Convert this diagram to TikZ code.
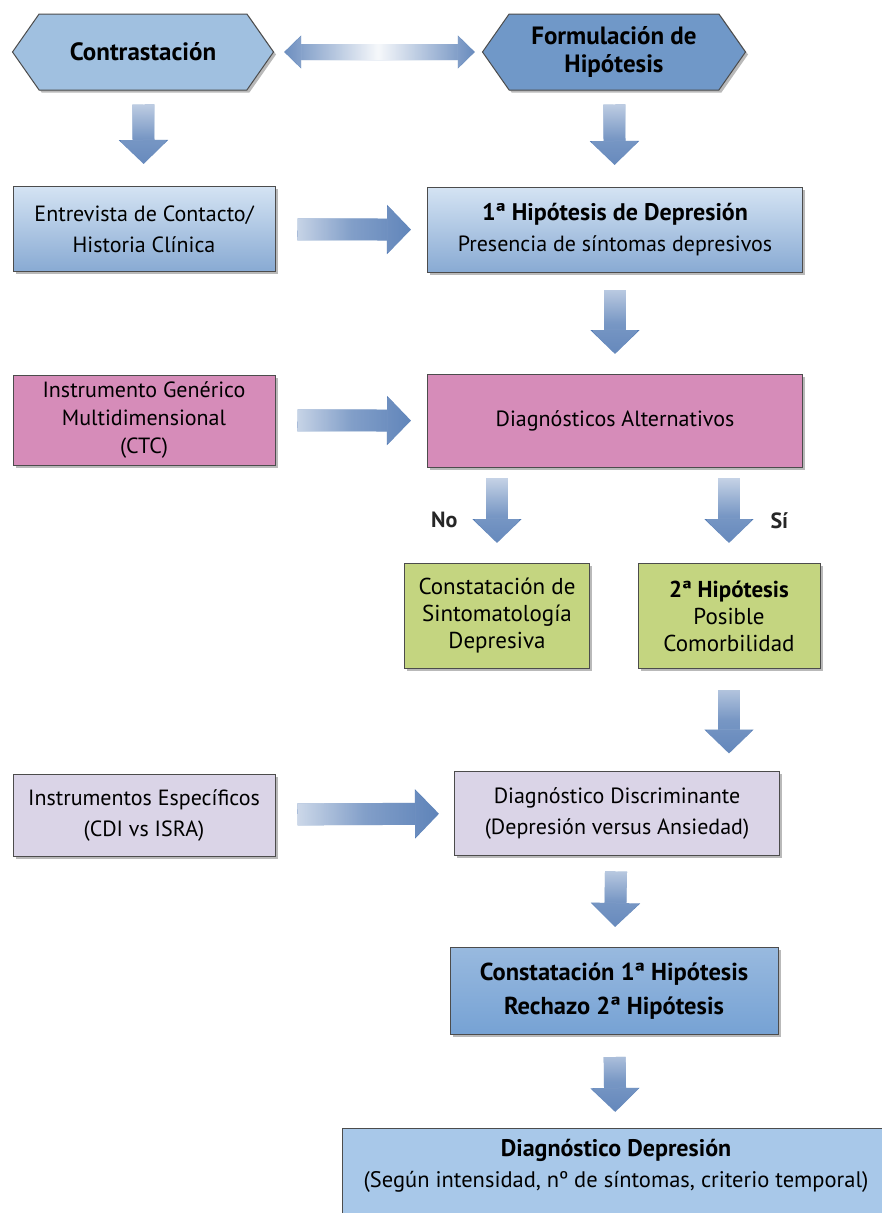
\documentclass[tikz,border=0pt]{standalone}
\usepackage{fontspec}
\setmainfont{PT Sans}
\usetikzlibrary{positioning,shapes.symbols,shadows,fadings,arrows.meta}

\definecolor{hexlight}{RGB}{160,192,224}
\definecolor{hexdark}{RGB}{112,152,200}
\definecolor{bluetop}{RGB}{212,227,243}
\definecolor{bluebot}{RGB}{136,170,211}
\definecolor{pinkbox}{RGB}{214,140,185}
\definecolor{greenbox}{RGB}{196,213,128}
\definecolor{lilacbox}{RGB}{218,212,231}
\definecolor{midblue}{RGB}{118,162,212}
\definecolor{paleblue}{RGB}{168,200,233}
\definecolor{arrowblue}{RGB}{82,122,180}

\tikzfading[name=fadedown, top color=transparent!8, bottom color=transparent!100, middle color=transparent!78]
\tikzfading[name=faderight, left color=transparent!8, right color=transparent!100, middle color=transparent!72]
\tikzfading[name=fadeboth, left color=transparent!100, right color=transparent!100, middle color=transparent!5]

\tikzset{
  every node/.style={font=\fontsize{22}{31}\selectfont},
  shade/.style={drop shadow={shadow xshift=2.5pt, shadow yshift=-2.5pt, opacity=.55}},
  hexbox/.style={signal, signal to=east and west, signal pointer angle=110,
    draw=black!70, line width=1pt, minimum width=261pt, minimum height=76pt, inner sep=0pt,
    align=center, font=\bfseries\fontsize{25}{28}\selectfont, shade},
  box/.style={rectangle, draw=black!70, line width=1pt, align=center, inner sep=0pt, shade},
  bluebox/.style={box, top color=bluetop, bottom color=bluebot},
  pinkbox/.style={box, fill=pinkbox},
  greenbox/.style={box, fill=greenbox, font=\fontsize{23}{27}\selectfont},
  lilacbox/.style={box, fill=lilacbox},
  fatarrow/.style={draw=arrowblue, line width=22pt,
    -{Triangle[length=24pt, width=48pt]},
    postaction={draw=white, path fading=#1, -{Triangle[length=24pt, width=48pt, line width=0pt]}}},
  dblarrow/.style={draw=arrowblue, line width=16pt,
    {Triangle[length=17pt, width=32pt]}-{Triangle[length=17pt, width=32pt]},
    postaction={draw=white, path fading=fadeboth,
      {Triangle[length=17pt, width=32pt, line width=0pt]}-{Triangle[length=17pt, width=32pt, line width=0pt]}}},
  choice/.style={font=\bfseries\fontsize{22}{26}\selectfont, text=black!85}
}

\begin{document}
\begin{tikzpicture}[x=1pt, y=-1pt]
\useasboundingbox[fill=white] (0,0) rectangle (882,1213);

\node (contr) [hexbox, fill=hexlight] at (143,52) {Contrastación};
\node (formul) [hexbox, fill=hexdark, minimum width=263pt] at (614,52) {Formulación de\\Hipótesis};

\node (entrev) [bluebox, minimum width=262pt, minimum height=85pt] at (144,229) {Entrevista de Contacto/\\Historia Clínica};
\node (hip1) [bluebox, minimum width=375pt, minimum height=85pt] at (615,230) {{\bfseries\fontsize{24}{31}\selectfont 1ª Hipótesis de Depresión}\\Presencia de síntomas depresivos};

\node (instr) [pinkbox, minimum width=262pt, minimum height=90pt] at (144,420) {Instrumento Genérico\\[-3pt]Multidimensional\\[-3pt](CTC)};
\node (alter) [pinkbox, minimum width=375pt, minimum height=93pt] at (615,421) {Diagnósticos Alternativos};

\node (sint) [greenbox, minimum width=185pt, minimum height=105pt] at (497,616) {Constatación de\\Sintomatología\\Depresiva};
\node (hip2) [greenbox, minimum width=182pt, minimum height=105pt] at (729,616) {\textbf{2ª Hipótesis}\\Posible\\Comorbilidad};

\node (especif) [lilacbox, minimum width=262pt, minimum height=82pt] at (144,815) {Instrumentos Específicos\\(CDI vs ISRA)};
\node (discr) [lilacbox, minimum width=325pt, minimum height=84pt] at (617,813) {Diagnóstico Discriminante\\(Depresión versus Ansiedad)};

\node (const) [box, top color=midblue!75, bottom color=midblue, minimum width=328pt, minimum height=87pt,
  font=\bfseries\fontsize{24.5}{34}\selectfont] at (614,991) {Constatación 1ª Hipótesis\\Rechazo 2ª Hipótesis};
\node (diagdep) [box, fill=paleblue, anchor=north, minimum width=548pt, inner ysep=11pt,
  font=\fontsize{22.5}{31}\selectfont] at (616,1128) {{\bfseries\fontsize{24}{31}\selectfont Diagnóstico Depresión}\\(Según intensidad, nº de síntomas, criterio temporal)\\ \strut};

\draw[dblarrow, shorten <=10pt, shorten >=7pt] (contr) -- (formul);
\draw[fatarrow=fadedown, shorten <=14pt, shorten >=22pt] (contr) -- (entrev);
\draw[fatarrow=fadedown, shorten <=14pt, shorten >=22pt] (formul) -- (hip1);
\draw[fatarrow=faderight, shorten <=22pt, shorten >=16pt] (entrev) -- (hip1);
\draw[fatarrow=fadedown, shorten <=17pt, shorten >=20pt] (hip1) -- (alter);
\draw[fatarrow=faderight, shorten <=22pt, shorten >=16pt] (instr) -- (alter);
\draw[fatarrow=fadedown, shorten <=10pt, shorten >=20pt] (alter.south -| sint.north) -- (sint.north);
\draw[fatarrow=fadedown, shorten <=10pt, shorten >=20pt] (alter.south -| hip2.north) -- (hip2.north);
\path (alter.south -| sint.north) -- (sint.north) node[choice, pos=.55, left=36pt] (nolab) {No};
\path (alter.south -| hip2.north) -- (hip2.north) node[choice, pos=.55, right=38pt] (silab) {Sí};
\draw[fatarrow=fadedown, shorten <=21pt, shorten >=17pt] (hip2.south) -- (hip2.south |- discr.north);
\draw[fatarrow=faderight, shorten <=22pt, shorten >=15pt] (especif) -- (discr);
\draw[fatarrow=fadedown, shorten <=16pt, shorten >=20pt] (discr) -- (const);
\draw[fatarrow=fadedown, shorten <=22pt, shorten >=16pt] (const) -- (diagdep);
\end{tikzpicture}
\end{document}
